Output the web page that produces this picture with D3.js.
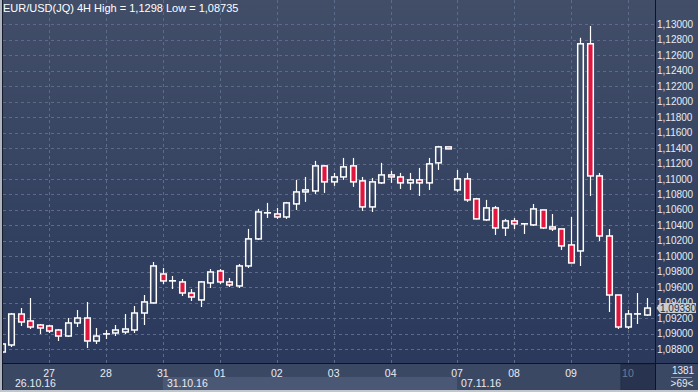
<!DOCTYPE html>
<html><head><meta charset="utf-8">
<script src="https://cdn.jsdelivr.net/npm/d3@7"></script>
<style>html,body{margin:0;padding:0;background:#2e3b58;overflow:hidden}svg{display:block}</style>
</head><body>
<script>
// ---- data (4H candles, EUR/USD) ----
const open  = [1.08761,1.08852,1.09253,1.09163,1.09111,1.09098,1.09046,1.08968,1.09137,1.09201,1.08904,1.08994,1.09007,1.09020,1.09046,1.09266,1.09396,1.09771,1.09681,1.09668,1.09525,1.09435,1.09655,1.09810,1.09668,1.09616,1.09875,1.10225,1.10561,1.10548,1.10509,1.10678,1.10833,1.10846,1.11170,1.10963,1.11027,1.11170,1.10976,1.10639,1.10950,1.11053,1.11027,1.10950,1.10989,1.10950,1.11209,1.11416,1.10859,1.11002,1.10743,1.10471,1.10626,1.10367,1.10458,1.10419,1.10406,1.10600,1.10380,1.10354,1.10147,1.10069,1.12750,1.11040,1.10263,1.09499,1.09085,1.09253,1.09240];
const high  = [1.08878,1.09266,1.09331,1.09460,1.09124,1.09111,1.09059,1.09201,1.09305,1.09409,1.09072,1.09046,1.09111,1.09253,1.09357,1.09499,1.09927,1.09849,1.09745,1.09707,1.09577,1.09681,1.09836,1.09836,1.09719,1.09901,1.10354,1.10613,1.10691,1.10626,1.10704,1.10989,1.11027,1.11235,1.11183,1.11079,1.11273,1.11273,1.11027,1.11014,1.11209,1.11105,1.11079,1.11079,1.11144,1.11273,1.11429,1.11416,1.11118,1.11079,1.10756,1.10730,1.10652,1.10484,1.10496,1.10432,1.10678,1.10600,1.10548,1.10354,1.10509,1.12827,1.12980,1.11079,1.10354,1.09499,1.09305,1.09525,1.09460];
const low   = [1.08735,1.08826,1.09098,1.09059,1.08994,1.09007,1.08904,1.08955,1.09085,1.08813,1.08865,1.08930,1.08968,1.08994,1.09007,1.09111,1.09390,1.09642,1.09577,1.09486,1.09422,1.09344,1.09590,1.09642,1.09603,1.09590,1.09849,1.10212,1.10496,1.10484,1.10484,1.10600,1.10704,1.10807,1.10820,1.10911,1.10989,1.10898,1.10587,1.10574,1.10937,1.10950,1.10872,1.10859,1.10781,1.10859,1.11118,1.11390,1.10833,1.10704,1.10478,1.10458,1.10276,1.10263,1.10354,1.10289,1.10393,1.10354,1.10328,1.10082,1.09914,1.09875,1.10781,1.10199,1.09279,1.09059,1.09059,1.09124,1.09227];
const close = [1.08865,1.09253,1.09150,1.09085,1.09072,1.09033,1.08968,1.09137,1.09201,1.08904,1.08968,1.08996,1.09046,1.09059,1.09266,1.09409,1.09875,1.09681,1.09683,1.09525,1.09473,1.09668,1.09797,1.09668,1.09629,1.09875,1.10225,1.10574,1.10563,1.10509,1.10691,1.10833,1.10859,1.11170,1.10963,1.11027,1.11157,1.10963,1.10639,1.10963,1.11053,1.11027,1.10950,1.10989,1.10950,1.11196,1.11416,1.11390,1.11002,1.10730,1.10484,1.10626,1.10367,1.10458,1.10419,1.10421,1.10613,1.10367,1.10354,1.10134,1.09914,1.12750,1.11040,1.10263,1.09499,1.09085,1.09253,1.09255,1.09330];

const dayLabels = ["27","28","31","01","02","03","04","07","08","09","10"];
const dayStart  = [5,11,17,23,29,35,41,48,54,60,66];
const weekLabels = ["26.10.16","31.10.16","07.11.16"];
const weekStart  = [0,17,48];
const priceTicks = d3.range(1.088, 1.13001, 0.002);
const titleText = "EUR/USD(JQ) 4H High = 1,1298 Low = 1,08735";
const lastPrice = 1.09330;
const footTop = "1381", footBottom = ">69<";

// ---- layout ----
const W = 698, H = 392;
const plotR = 655.5, plotB = 363.5;
const FONT = "'Liberation Sans', Arial, sans-serif";

const svg = d3.select("body").append("svg").attr("width", W).attr("height", H);
const defs = svg.append("defs");
const grad = defs.append("linearGradient").attr("id","bg").attr("x1",0).attr("y1",0).attr("x2",0).attr("y2",1);
grad.append("stop").attr("offset","0%").attr("stop-color","#424e68");
grad.append("stop").attr("offset","100%").attr("stop-color","#2a395c");
defs.append("clipPath").attr("id","plotclip").append("rect").attr("x",3).attr("y",0).attr("width",plotR-3).attr("height",plotB);

const idx = d3.range(open.length);
const x = d3.scaleLinear().domain([0, open.length-1]).range([1.55, 646.9]);
const y = d3.scaleLinear().domain([1.088, 1.130]).range([349, 24.5]);
const fmt = v => d3.format(".5f")(v).replace(".", ",");

// backgrounds
svg.append("rect").attr("x",0).attr("y",0).attr("width",W).attr("height",plotB).attr("fill","url(#bg)");
svg.append("rect").attr("x",0).attr("y",plotB).attr("width",W).attr("height",H-plotB).attr("fill","#3b4864");
// week shading box
svg.append("rect").attr("x",x(weekStart[1])).attr("y",377).attr("width",x(weekStart[2])-x(weekStart[1])).attr("height",13).attr("fill","#4b5875");
// current day box
svg.append("rect").attr("x",x(dayStart[10])-7).attr("y",364).attr("width",plotR-(x(dayStart[10])-7)).attr("height",26).attr("fill","#28344f").attr("stroke","#222b40").attr("stroke-width",0.8);

// grid
const g = svg.append("g");
g.selectAll("line.h").data(priceTicks).join("line")
  .attr("x1",3).attr("x2",plotR).attr("y1",d=>Math.round(y(d))+0.5).attr("y2",d=>Math.round(y(d))+0.5)
  .attr("stroke","#5c6b89").attr("stroke-width",1).attr("stroke-dasharray","3,3");
g.selectAll("line.v").data(dayStart).join("line")
  .attr("x1",d=>Math.round(x(d))+0.5).attr("x2",d=>Math.round(x(d))+0.5).attr("y1",0).attr("y2",plotB)
  .attr("stroke","#5c6b89").attr("stroke-width",1).attr("stroke-dasharray","3,3");

// candles
const cg = svg.append("g").attr("clip-path","url(#plotclip)");
const c = cg.selectAll("g.c").data(idx).join("g");
c.append("line")
  .attr("x1",i=>Math.round(x(i))+0.5).attr("x2",i=>Math.round(x(i))+0.5)
  .attr("y1",i=>y(high[i])).attr("y2",i=>y(low[i]))
  .attr("stroke","#ffffff").attr("stroke-width",1.2);
c.append("rect")
  .attr("x",i=>Math.round(x(i))+0.5-2.8).attr("width",5.6)
  .attr("y",i=>y(Math.max(open[i],close[i])))
  .attr("height",i=>Math.max(0.01, Math.abs(y(open[i])-y(close[i]))))
  .attr("fill",i=>close[i] >= open[i] ? "#35435f" : "#e0163e")
  .attr("fill-opacity",i=>close[i] >= open[i] ? 0 : 1)
  .attr("stroke","#ffffff").attr("stroke-width",1.5);
// hollow body background fill (to hide wick inside)
c.filter(i=>close[i]>=open[i]).insert("rect","rect")
  .attr("x",i=>Math.round(x(i))+0.5-2.8).attr("width",5.6)
  .attr("y",i=>y(close[i])).attr("height",i=>Math.max(0.01,y(open[i])-y(close[i])))
  .attr("fill","url(#bg)");
c.each(function(i){ const gg=d3.select(this); if(close[i]>=open[i]){ gg.select("rect").raise(); gg.selectAll("rect").filter(function(){return d3.select(this).attr("stroke")==="#ffffff";}).raise(); } });

// title
svg.append("text").attr("x",3).attr("y",12).text(titleText)
  .attr("font-family",FONT).attr("font-size",11).attr("fill","#ffffff");

// right axis labels
svg.append("g").selectAll("text").data(priceTicks).join("text")
  .attr("x",657).attr("y",d=>y(d)).attr("dy","0.35em").text(fmt)
  .attr("font-family",FONT).attr("font-size",10).attr("fill","#e8ecf2");

// last price tag
const ty = y(lastPrice);
svg.append("path")
  .attr("d",`M656.5,${ty} L660,${ty-5} L696,${ty-5} L696,${ty+5} L660,${ty+5} Z`)
  .attr("fill","#c9cdd4");
svg.append("text").attr("x",660).attr("y",ty).attr("dy","0.35em").text(fmt(lastPrice))
  .attr("font-family",FONT).attr("font-size",10).attr("fill","#24304a");

// bottom axis labels
svg.append("g").selectAll("text").data(dayStart).join("text")
  .attr("x",d=>x(d)).attr("y",373).attr("dy","0.35em").attr("text-anchor","middle")
  .text((d,i)=>dayLabels[i])
  .attr("font-family",FONT).attr("font-size",10.5)
  .attr("fill",(d,i)=> i===dayLabels.length-1 ? "#6e7b94" : "#e8ecf2");
svg.append("g").selectAll("text").data(weekStart).join("text")
  .attr("x",(d,i)=> i===0 ? 15 : x(d)+4).attr("y",383.5).attr("dy","0.35em")
  .text((d,i)=>weekLabels[i])
  .attr("font-family",FONT).attr("font-size",10.5).attr("fill","#e8ecf2");

// frame lines
svg.append("line").attr("x1",0).attr("x2",W).attr("y1",plotB).attr("y2",plotB).attr("stroke","#0f1420").attr("stroke-width",1);
svg.append("line").attr("x1",plotR).attr("x2",plotR).attr("y1",0).attr("y2",H).attr("stroke","#0f1420").attr("stroke-width",1);
svg.append("line").attr("x1",2.5).attr("x2",2.5).attr("y1",0).attr("y2",H).attr("stroke","#151b2a").attr("stroke-width",1);
svg.append("rect").attr("x",0).attr("y",0).attr("width",2).attr("height",H).attr("fill","#aeb4bf");
svg.append("rect").attr("x",0).attr("y",390).attr("width",W).attr("height",2).attr("fill","#c2c6cd");

// bottom-right box
svg.append("text").attr("x",683).attr("y",370).attr("dy","0.35em").attr("text-anchor","middle").text(footTop)
  .attr("font-family",FONT).attr("font-size",10).attr("fill","#e8ecf2");
svg.append("line").attr("x1",671).attr("x2",692).attr("y1",377.5).attr("y2",377.5).attr("stroke","#8a94a8");
svg.append("text").attr("x",682).attr("y",383).attr("dy","0.35em").attr("text-anchor","middle").text(footBottom)
  .attr("font-family",FONT).attr("font-size",10).attr("fill","#e8ecf2");
</script>
</body></html>
